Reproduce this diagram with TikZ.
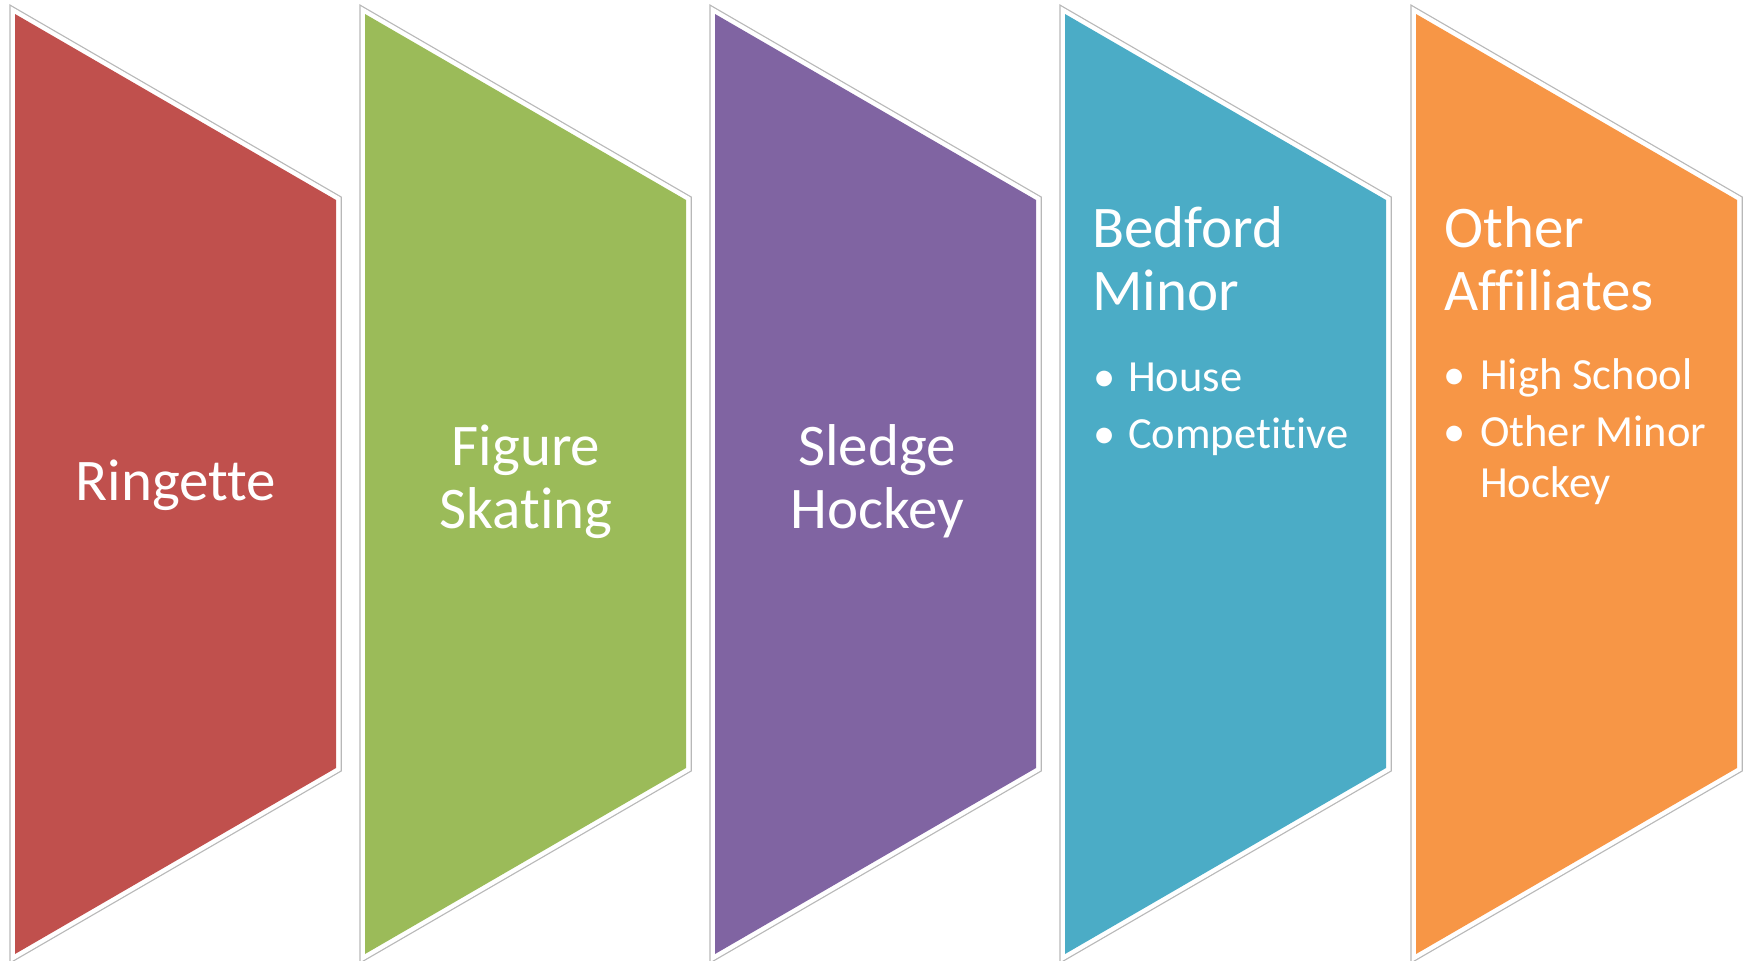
\documentclass[tikz,border=0pt]{standalone}
\usepackage{fontspec}
\setmainfont{Carlito}[Ligatures=NoCommon]
\definecolor{cRed}{HTML}{C0504D}
\definecolor{cGreen}{HTML}{9BBB59}
\definecolor{cPurple}{HTML}{8064A2}
\definecolor{cBlue}{HTML}{4BACC6}
\definecolor{cOrange}{HTML}{F79646}
\tikzset{
  outlinegray/.style={draw=black!28, line width=11.5pt, line join=miter},
  outlinewhite/.style={draw=white, line width=9pt, line join=miter},
  bigtext/.style={text=white, inner sep=0pt, font=\fontsize{59}{63}\selectfont},
  bullettext/.style={text=white, inner sep=0pt, anchor=base west, font=\fontsize{44.5}{50}\selectfont},
}
\begin{document}
\begin{tikzpicture}[x=1pt,y=-1pt]
\useasboundingbox (0,0) rectangle (1746,961);
\foreach \L/\c in {15/cRed, 365/cGreen, 715/cPurple, 1065/cBlue, 1416/cOrange} {
  \path[outlinegray] (\L,14) -- (\L+321,200) -- (\L+321,768) -- (\L,954) -- cycle;
  \path[outlinewhite] (\L,14) -- (\L+321,200) -- (\L+321,768) -- (\L,954) -- cycle;
  \fill[\c] (\L,14) -- (\L+321,200) -- (\L+321,768) -- (\L,954) -- cycle;
}
% Ringette
\node[bigtext, anchor=base] (ring) at (176,500) {Ringette};
% Figure Skating
\node[bigtext, anchor=base] (fig1) at (526,465) {Figure};
\node[bigtext, anchor=base] (fig2) at (526,528) {Skating};
% Sledge Hockey
\node[bigtext, anchor=base] (sle1) at (877,465) {Sledge};
\node[bigtext, anchor=base] (sle2) at (877,528) {Hockey};
% Bedford Minor
\node[bigtext, anchor=base west] (bed1) at (1092,247) {Bedford};
\node[bigtext, anchor=base west] (bed2) at (1092,310) {Minor};
\node[bullettext] (bedb1) at (1093,391) {\makebox[35pt][l]{•}House};
\node[bullettext] (bedb2) at (1093,448) {\makebox[35pt][l]{•}Competitive};
% Other Affiliates
\node[bigtext, anchor=base west] (oth1) at (1444,247) {Other};
\node[bigtext, anchor=base west] (oth2) at (1444,310) {Affiliates};
\node[bullettext] (othb1) at (1443,389) {\makebox[37pt][l]{•}High School};
\node[bullettext] (othb2) at (1443,446) {\makebox[37pt][l]{•}Other Minor};
\node[bullettext] (othb3) at (1480,497) {Hockey};
\end{tikzpicture}
\end{document}
